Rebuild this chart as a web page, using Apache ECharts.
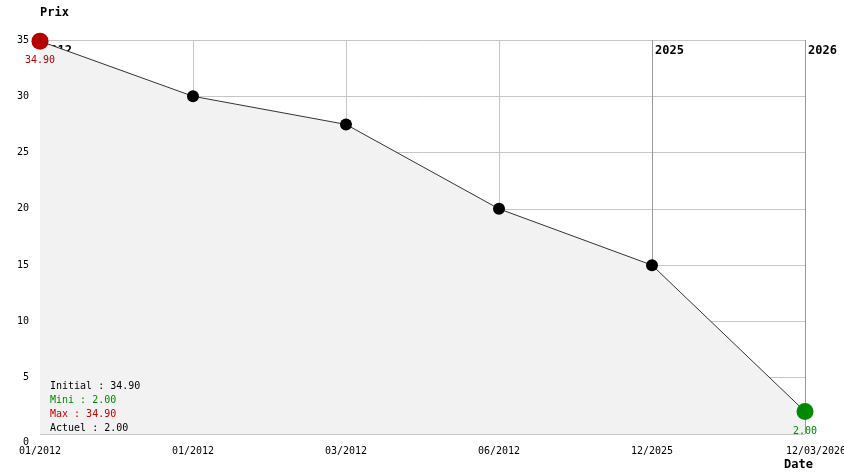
<!DOCTYPE html>
<html>
<head>
<meta charset="utf-8">
<script src="https://cdn.jsdelivr.net/npm/echarts@6/dist/echarts.min.js"></script>
<style>
html,body{margin:0;padding:0;background:#fff;}
#c{width:844px;height:474px;}
</style>
</head>
<body>
<div id="c"></div>
<script>
const categories = ['01/2012', '01/2012', '03/2012', '06/2012', '12/2025', '12/03/2026'];
const prices = [34.90, 30, 27.5, 20, 15, 2.00];
const yearLabels = ['2012', '', '', '', '2025', '2026'];
const summaryLabels = ['Initial', 'Mini', 'Max', 'Actuel'];
const summaryValues = ['34.90', '2.00', '34.90', '2.00'];

const FONT = 'DejaVu Sans Mono';
const RED = '#b40000';
const GREEN = '#008a00';
const last = prices.length - 1;

const seriesData = prices.map((v, i) => {
  if (i === 0) {
    return { value: v, symbolSize: 17, itemStyle: { color: RED },
      label: { show: true, position: 'bottom', distance: 6, color: RED, formatter: v.toFixed(2) } };
  }
  if (i === last) {
    return { value: v, symbolSize: 17, itemStyle: { color: GREEN },
      label: { show: true, position: 'bottom', distance: 6, color: GREEN, formatter: v.toFixed(2) } };
  }
  return { value: v };
});

const summaryStyles = ['k', 'g', 'r', 'k'];
const summaryText = summaryLabels.map((l, i) => '{' + summaryStyles[i] + '|' + l + ' : ' + summaryValues[i] + '}').join('\n');

const chart = echarts.init(document.getElementById('c'), null, { renderer: 'canvas' });
chart.setOption({
  animation: false,
  backgroundColor: '#fff',
  textStyle: { fontFamily: FONT },
  grid: { left: 40, right: 39, top: 40, bottom: 40, containLabel: false, outerBoundsMode: 'none' },
  title: {
    left: 50, top: 379, padding: 0,
    text: summaryText,
    textStyle: {
      fontFamily: FONT, fontSize: 10, fontWeight: 'normal', lineHeight: 14,
      rich: {
        k: { color: '#000', fontFamily: FONT, fontSize: 10, lineHeight: 14 },
        g: { color: GREEN, fontFamily: FONT, fontSize: 10, lineHeight: 14 },
        r: { color: '#c00000', fontFamily: FONT, fontSize: 10, lineHeight: 14 }
      }
    }
  },
  xAxis: [{
    type: 'category',
    data: categories,
    boundaryGap: false,
    position: 'bottom',
    name: 'Date',
    nameLocation: 'end',
    nameGap: -21,
    nameTextStyle: { fontFamily: FONT, fontSize: 12, fontWeight: 'bold', color: '#000', verticalAlign: 'top', padding: [25, 0, 0, 0] },
    axisLine: { show: false },
    axisTick: { show: false },
    axisLabel: {
      color: '#000', fontFamily: FONT, fontSize: 10, margin: 12, interval: 0,
      showMinLabel: true, showMaxLabel: true, hideOverlap: false,
      formatter: (v, i) => i === last ? '{e|' + v + '}' : v,
      rich: { e: { fontFamily: FONT, fontSize: 10, color: '#000', padding: [0, 0, 0, 22] } }
    },
    splitLine: { show: true, lineStyle: { color: ['#9a9a9a', '#c6c6c6', '#c6c6c6', '#c6c6c6', '#9a9a9a', '#9a9a9a'], width: 1 } }
  }, {
    type: 'category',
    data: categories,
    boundaryGap: false,
    position: 'top',
    axisLine: { show: false },
    axisTick: { show: false },
    splitLine: { show: false },
    axisLabel: {
      inside: true, interval: 0, align: 'left', margin: 5, padding: [0, 0, 0, 3],
      color: '#000', fontFamily: FONT, fontSize: 12, fontWeight: 'bold',
      formatter: (v, i) => yearLabels[i]
    }
  }],
  yAxis: {
    type: 'value',
    min: 0, max: 35, interval: 5,
    name: 'Prix',
    nameLocation: 'end',
    nameGap: 21,
    nameTextStyle: { fontFamily: FONT, fontSize: 12, fontWeight: 'bold', color: '#000', align: 'left' },
    axisLine: { show: false },
    axisTick: { show: false },
    axisLabel: {
      color: '#000', fontFamily: FONT, fontSize: 10, margin: 11,
      formatter: v => v === 0 ? '{z|0}' : String(v),
      rich: { z: { fontFamily: FONT, fontSize: 10, color: '#000', padding: [16, 0, 0, 0] } }
    },
    splitLine: { show: true, lineStyle: { color: '#c6c6c6', width: 1 } }
  },
  series: [{
    type: 'line',
    data: seriesData,
    xAxisIndex: 0,
    symbol: 'circle',
    symbolSize: 12,
    showAllSymbol: true,
    itemStyle: { color: '#000' },
    lineStyle: { color: '#333', width: 1 },
    areaStyle: { color: '#f2f2f2', opacity: 1 },
    label: { fontFamily: FONT, fontSize: 10 },
    emphasis: { disabled: true }
  }]
});
</script>
</body>
</html>
